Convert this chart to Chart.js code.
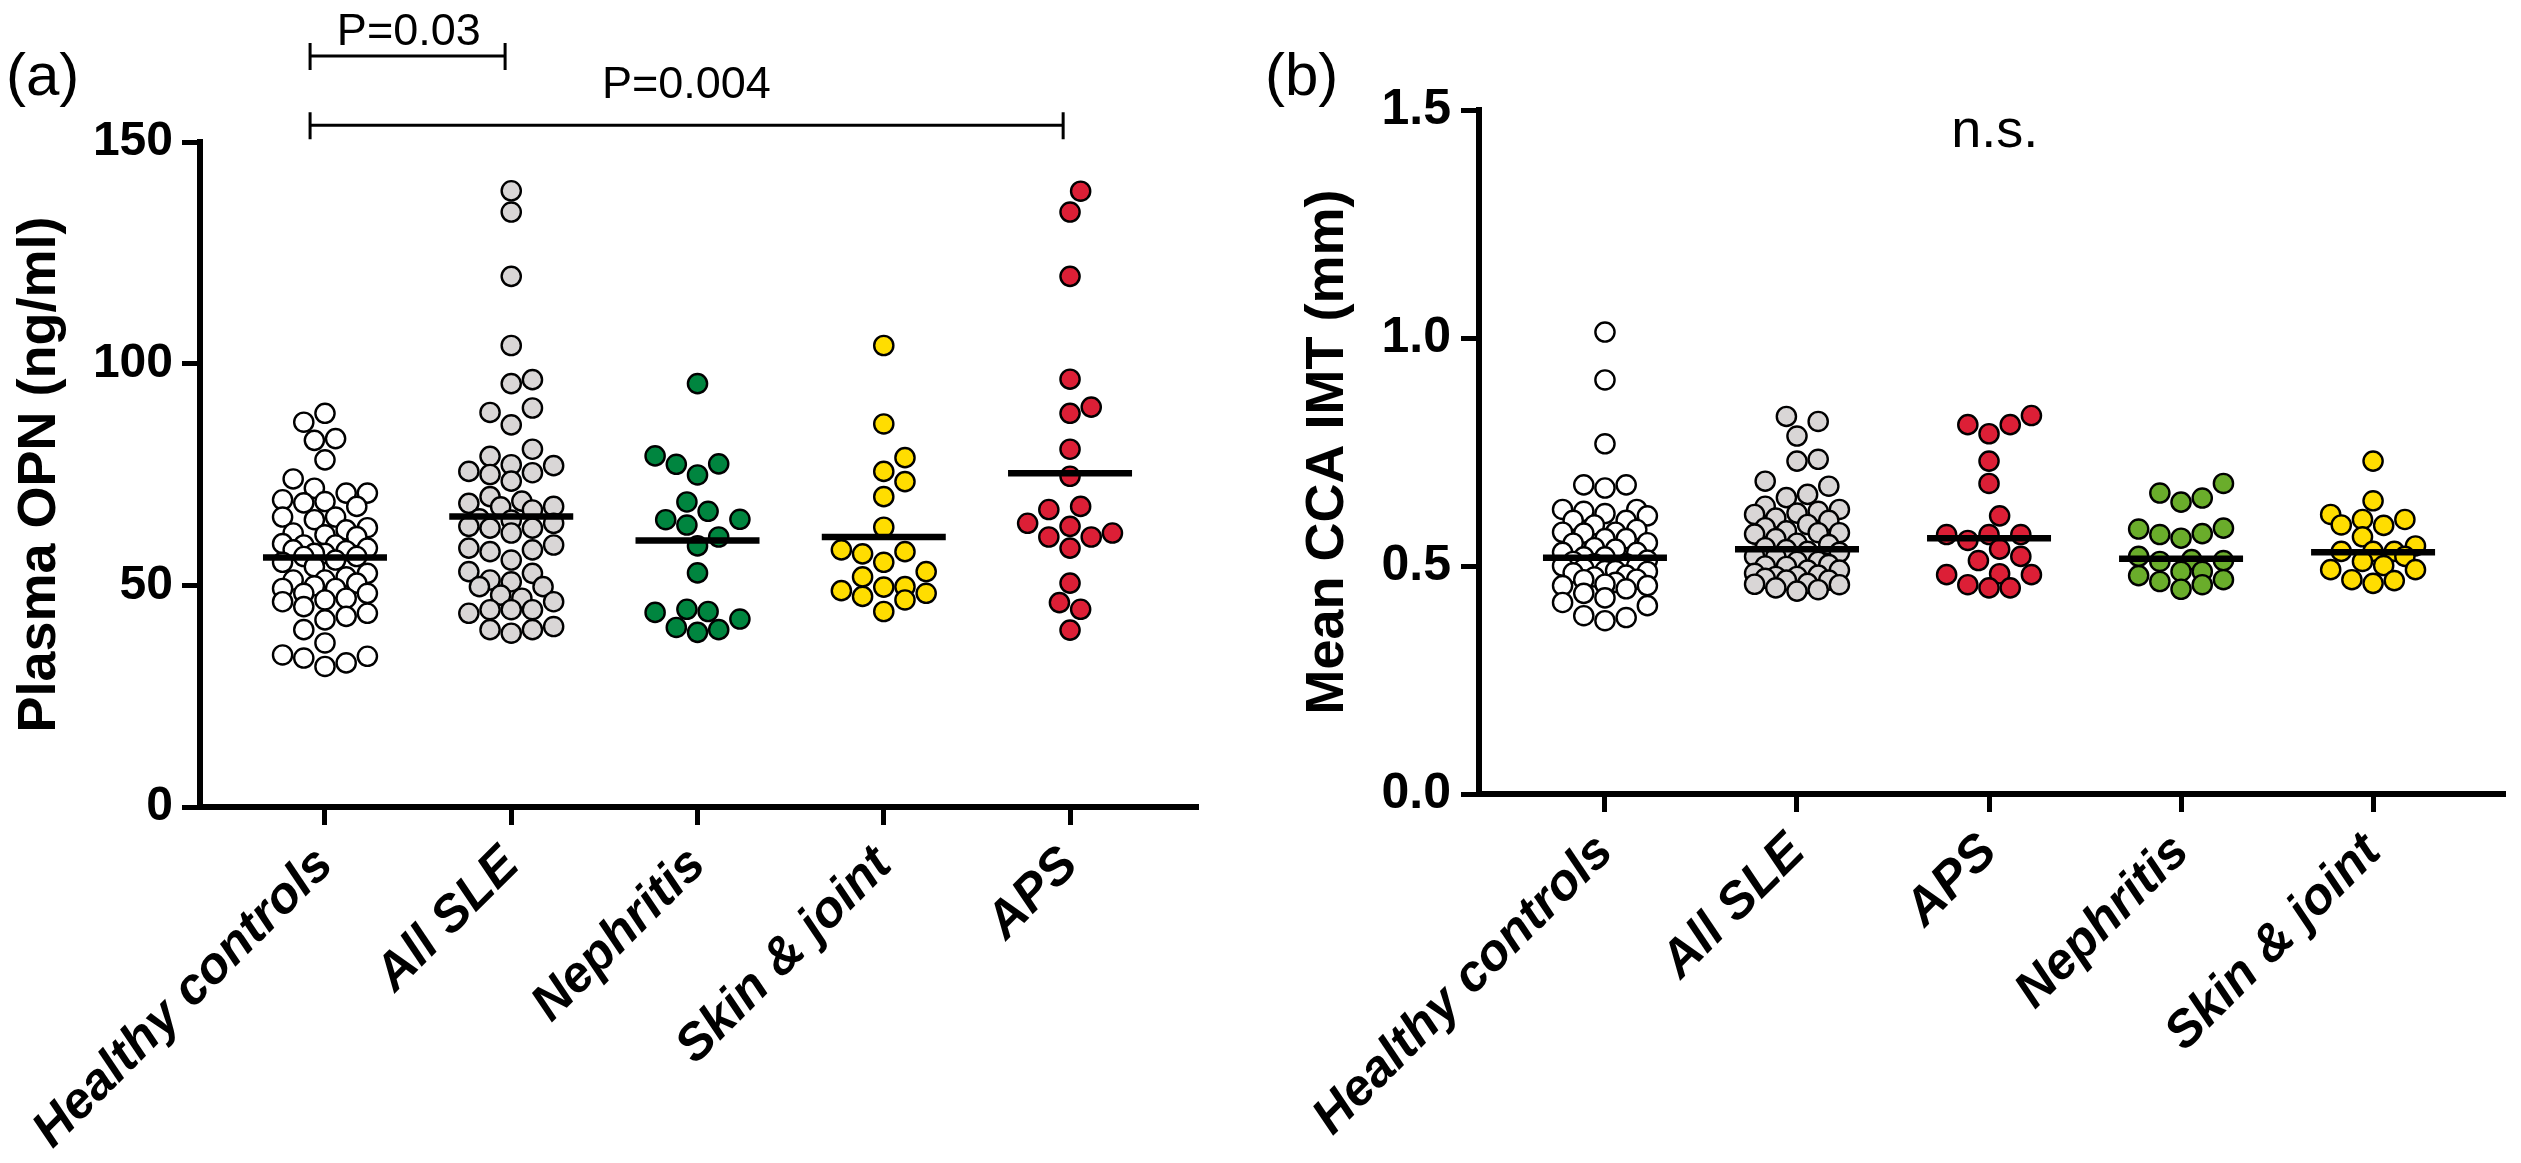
<!DOCTYPE html>
<html>
<head>
<meta charset="utf-8">
<title>OPN and CCA IMT</title>
<script src="https://cdn.jsdelivr.net/npm/chart.js"></script>
<style>
  body { margin: 0; background: #fff; overflow: hidden; }
  #wrap { position: relative; width: 2521px; height: 1163px; }
  canvas { position: absolute; top: 0; }
  #opnChart { left: 0; }
  #imtChart { left: 1260px; }
</style>
</head>
<body>
<div id="wrap">
  <canvas id="opnChart" width="1260" height="1163"></canvas>
  <canvas id="imtChart" width="1261" height="1163"></canvas>
</div>
<script>
// ---- panel (a): plasma OPN, ng/ml ----
var opnGroups = ['Healthy controls', 'All SLE', 'Nephritis', 'Skin & joint', 'APS'];
var opnHealthy = [88.8, 86.8, 83.1, 82.7, 78.3, 74.0, 71.9, 70.8, 70.8, 69.3, 68.9, 68.6, 67.8, 65.4, 65.4,
  64.8, 63.0, 62.5, 61.8, 61.4, 61.0, 59.4, 59.1, 59.1, 58.4, 58.0, 57.8, 57.2, 57.2, 56.5, 56.5, 55.7,
  55.2, 54.2, 52.7, 51.9, 51.2, 51.2, 50.5, 49.9, 49.3, 49.3, 48.2, 48.2, 47.1, 46.7, 46.3, 45.2, 43.7,
  43.0, 42.2, 40.0, 37.0, 34.3, 34.0, 33.6, 32.5, 31.7];
var opnAllSLE = [139.0, 134.2, 119.7, 104.1, 96.4, 95.5, 90.0, 89.0, 86.2, 80.7, 79.1, 77.2, 77.0, 75.7,
  75.4, 75.0, 73.5, 70.0, 69.0, 68.5, 67.8, 67.7, 67.0, 65.0, 64.7, 64.0, 63.3, 62.9, 62.9, 61.8, 59.1,
  58.4, 58.0, 57.6, 55.7, 53.1, 52.7, 51.2, 50.8, 49.7, 49.7, 47.8, 47.1, 46.3, 44.5, 44.5, 44.5, 43.7,
  40.7, 40.0, 40.0, 39.2];
var opnNephritis = [95.5, 79.2, 77.4, 77.3, 74.9, 68.8, 66.7, 64.9, 64.8, 63.6, 60.9, 58.9, 52.8, 44.6,
  44.1, 43.9, 42.4, 40.5, 40.0, 39.4];
var opnSkin = [104.1, 86.4, 78.8, 75.7, 73.4, 70.0, 63.1, 58.0, 57.6, 57.1, 55.2, 53.1, 51.9, 49.7, 49.6,
  48.8, 48.2, 47.5, 46.7, 44.1];
var opnAPS = [138.9, 134.2, 119.7, 96.5, 90.2, 88.8, 80.7, 74.6, 67.8, 67.1, 64.0, 63.3, 61.8, 60.9, 60.9,
  58.4, 50.5, 46.1, 44.6, 39.9];
var opnMeans = [56.3, 65.5, 60.1, 60.9, 75.3];
var opnTicks = [0, 50, 100, 150];

// ---- panel (b): mean CCA IMT, mm ----
var imtGroups = ['Healthy controls', 'All SLE', 'APS', 'Nephritis', 'Skin & joint'];
var imtHealthy = [1.013, 0.908, 0.768, 0.678, 0.678, 0.671, 0.624, 0.624, 0.620, 0.615, 0.610, 0.600,
  0.600, 0.590, 0.580, 0.574, 0.574, 0.572, 0.560, 0.560, 0.551, 0.550, 0.540, 0.537, 0.530, 0.530, 0.520,
  0.520, 0.513, 0.510, 0.505, 0.505, 0.500, 0.500, 0.495, 0.490, 0.490, 0.488, 0.485, 0.480, 0.476, 0.471,
  0.470, 0.464, 0.460, 0.457, 0.457, 0.450, 0.440, 0.430, 0.420, 0.413, 0.391, 0.387, 0.380];
var imtAllSLE = [0.828, 0.817, 0.785, 0.734, 0.730, 0.686, 0.675, 0.657, 0.650, 0.631, 0.624, 0.620, 0.616,
  0.613, 0.605, 0.600, 0.591, 0.584, 0.577, 0.573, 0.573, 0.570, 0.560, 0.550, 0.547, 0.540, 0.536, 0.532,
  0.530, 0.521, 0.520, 0.510, 0.510, 0.503, 0.500, 0.499, 0.491, 0.491, 0.484, 0.480, 0.477, 0.477, 0.473,
  0.469, 0.469, 0.462, 0.460, 0.459, 0.452, 0.448, 0.445];
var imtAPS = [0.830, 0.810, 0.810, 0.790, 0.730, 0.681, 0.610, 0.569, 0.569, 0.569, 0.556, 0.537, 0.521,
  0.512, 0.483, 0.481, 0.481, 0.459, 0.452, 0.452];
var imtNephritis = [0.681, 0.660, 0.649, 0.640, 0.583, 0.581, 0.571, 0.569, 0.561, 0.521, 0.514, 0.512,
  0.510, 0.488, 0.488, 0.479, 0.470, 0.466, 0.459, 0.449];
var imtSkin = [0.730, 0.643, 0.613, 0.602, 0.602, 0.590, 0.589, 0.564, 0.544, 0.532, 0.532, 0.532, 0.521,
  0.510, 0.501, 0.492, 0.492, 0.470, 0.468, 0.462];
var imtMedians = [0.518, 0.537, 0.561, 0.516, 0.530];
var imtTicks = [0, 0.5, 1.0, 1.5];

var FONT = "'Liberation Sans', Arial, Helvetica, sans-serif";
var WHITE = '#ffffff', GREY = '#d9d6d6', RED = '#dc1f36', YELLOW = '#ffdd00';

// beeswarm spacing, in pixels
var DOT_R = 9.6, DOT_GAP = 21, SLOT = 10.6, SPREAD = 50;

function swarm(chart, series) {
  var xs = chart.scales.x, ys = chart.scales.y;
  var unit = xs.getPixelForValue(1) - xs.getPixelForValue(0);
  var slots = [0];
  for (var k = 1; k * SLOT <= SPREAD; k++) slots.push(k * SLOT);
  series.forEach(function (vals, g) {
    var placed = [], out = [];
    var order = vals.map(function (v, i) { return i; })
      .sort(function (a, b) { return vals[a] - vals[b]; });
    order.forEach(function (i, n) {
      var py = ys.getPixelForValue(vals[i]);
      var best = 0, bestGap = -1;
      var cands = [0];
      slots.slice(1).forEach(function (s) { cands.push(n % 2 ? s : -s, n % 2 ? -s : s); });
      for (var c = 0; c < cands.length; c++) {
        var gap = Infinity;
        for (var p = 0; p < placed.length; p++) {
          gap = Math.min(gap, Math.hypot(placed[p].x - cands[c], placed[p].y - py));
        }
        if (gap >= DOT_GAP) { best = cands[c]; break; }
        if (gap > bestGap + 0.5) { bestGap = gap; best = cands[c]; }
      }
      placed.push({ x: best, y: py });
      out[i] = { x: g + best / unit, y: vals[i] };
    });
    chart.data.datasets[g + 1].data = out;
  });
  chart.update('none');
}

// category labels, rotated 45 degrees, right end under each tick
function drawGroupLabels(ctx, xs, groups) {
  ctx.save();
  ctx.fillStyle = '#000';
  ctx.font = 'italic bold 51px ' + FONT;
  ctx.textAlign = 'right';
  ctx.textBaseline = 'alphabetic';
  groups.forEach(function (g, i) {
    ctx.save();
    ctx.translate(xs.getPixelForValue(i) + 10, xs.top + 60);
    ctx.rotate(-Math.PI / 4);
    ctx.fillText(g, 0, 0);
    ctx.restore();
  });
  ctx.restore();
}

function buildChart(id, cfg) {
  var datasets = [{
    label: 'centre line',
    data: cfg.lines.map(function (v, i) { return { x: i, y: v }; }),
    pointStyle: 'line',
    pointRadius: 62,
    pointBorderWidth: 6.5,
    pointBorderColor: '#000',
    pointBackgroundColor: '#000'
  }];
  cfg.series.forEach(function (vals, i) {
    datasets.push({
      label: cfg.groups[i],
      data: vals.map(function (v) { return { x: i, y: v }; }),
      pointRadius: DOT_R,
      pointBorderWidth: 2.4,
      pointBorderColor: '#000',
      pointBackgroundColor: cfg.colors[i]
    });
  });

  var axisGrid = { drawOnChartArea: false, tickLength: 18, tickWidth: 5, tickColor: '#000' };
  var axisBorder = { display: true, width: 6, color: '#000' };

  var chart = new Chart(document.getElementById(id), {
    type: 'scatter',
    data: { datasets: datasets },
    options: {
      responsive: false,
      devicePixelRatio: 1,
      animation: false,
      events: [],
      layout: { autoPadding: false, padding: { top: cfg.top, right: cfg.right, bottom: 0, left: 0 } },
      plugins: { legend: { display: false }, tooltip: { enabled: false } },
      scales: {
        x: {
          type: 'linear',
          min: cfg.xMin,
          max: cfg.xMax,
          afterBuildTicks: function (s) {
            s.ticks = cfg.groups.map(function (g, i) { return { value: i }; });
          },
          afterFit: function (s) { s.height = cfg.xHeight; s.paddingLeft = 0; s.paddingRight = 0; },
          grid: axisGrid,
          border: axisBorder,
          ticks: { display: false }
        },
        y: {
          type: 'linear',
          min: 0,
          max: cfg.yMax,
          afterBuildTicks: function (s) {
            s.ticks = cfg.yTicks.map(function (v) { return { value: v }; });
          },
          afterFit: function (s) { s.width = cfg.yWidth; },
          grid: axisGrid,
          border: axisBorder,
          ticks: {
            padding: cfg.yPad,
            color: '#000',
            font: { family: FONT, size: cfg.yFont, weight: 'bold' },
            callback: cfg.fmt
          },
          title: {
            display: true,
            text: cfg.yTitle,
            color: '#000',
            font: { family: FONT, size: 54, weight: 'bold' },
            padding: { top: cfg.titlePad, bottom: 0 }
          }
        }
      }
    },
    plugins: [{
      id: 'decor',
      afterDraw: function (c) {
        drawGroupLabels(c.ctx, c.scales.x, cfg.groups);
        cfg.decorate(c.ctx, c.scales.x, c.scales.y);
      }
    }]
  });
  swarm(chart, cfg.series);
  return chart;
}

function text(ctx, str, x, y, size, align) {
  ctx.save();
  ctx.fillStyle = '#000';
  ctx.font = size + 'px ' + FONT;
  ctx.textAlign = align;
  ctx.textBaseline = 'alphabetic';
  ctx.fillText(str, x, y);
  ctx.restore();
}

// significance brackets above panel (a)
var opnBrackets = [
  { from: -0.08, to: 0.967, y: 169.4, label: 'P=0.03', labelX: 0.45, labelY: 171.9 },
  { from: -0.08, to: 3.963, y: 153.8, label: 'P=0.004', labelX: 1.94, labelY: 159.9 }
];

buildChart('opnChart', {
  groups: opnGroups,
  series: [opnHealthy, opnAllSLE, opnNephritis, opnSkin, opnAPS],
  lines: opnMeans,
  colors: [WHITE, GREY, '#00853f', YELLOW, RED],
  yTicks: opnTicks,
  yMax: 150,
  yTitle: 'Plasma OPN (ng/ml)',
  fmt: function (v) { return String(v); },
  yFont: 48, yPad: 9, yWidth: 200, titlePad: 8,
  top: 142, right: 62, xHeight: 356,
  xMin: -0.671, xMax: 4.687,
  decorate: function (ctx, xs, ys) {
    text(ctx, '(a)', 6, 95, 60, 'left');
    opnBrackets.forEach(function (b) {
      var x1 = xs.getPixelForValue(b.from), x2 = xs.getPixelForValue(b.to);
      var y = ys.getPixelForValue(b.y);
      ctx.save();
      ctx.strokeStyle = '#000';
      ctx.lineWidth = 3;
      ctx.beginPath();
      ctx.moveTo(x1, y); ctx.lineTo(x2, y);
      ctx.moveTo(x1, y - 13); ctx.lineTo(x1, y + 14);
      ctx.moveTo(x2, y - 13); ctx.lineTo(x2, y + 14);
      ctx.stroke();
      ctx.restore();
      text(ctx, b.label, xs.getPixelForValue(b.labelX), ys.getPixelForValue(b.labelY), 45, 'center');
    });
  }
});

buildChart('imtChart', {
  groups: imtGroups,
  series: [imtHealthy, imtAllSLE, imtAPS, imtNephritis, imtSkin],
  lines: imtMedians,
  colors: [WHITE, GREY, RED, '#6aad2b', YELLOW],
  yTicks: imtTicks,
  yMax: 1.5,
  yTitle: 'Mean CCA IMT (mm)',
  fmt: function (v) { return v.toFixed(1); },
  yFont: 50, yPad: 10, yWidth: 219, titlePad: 36,
  top: 110, right: 16, xHeight: 369,
  xMin: -0.656, xMax: 4.687,
  decorate: function (ctx, xs, ys) {
    text(ctx, '(b)', 5, 95, 60, 'left');
    text(ctx, 'n.s.', xs.getPixelForValue(2.03), ys.getPixelForValue(1.419), 54, 'center');
  }
});
</script>
</body>
</html>
